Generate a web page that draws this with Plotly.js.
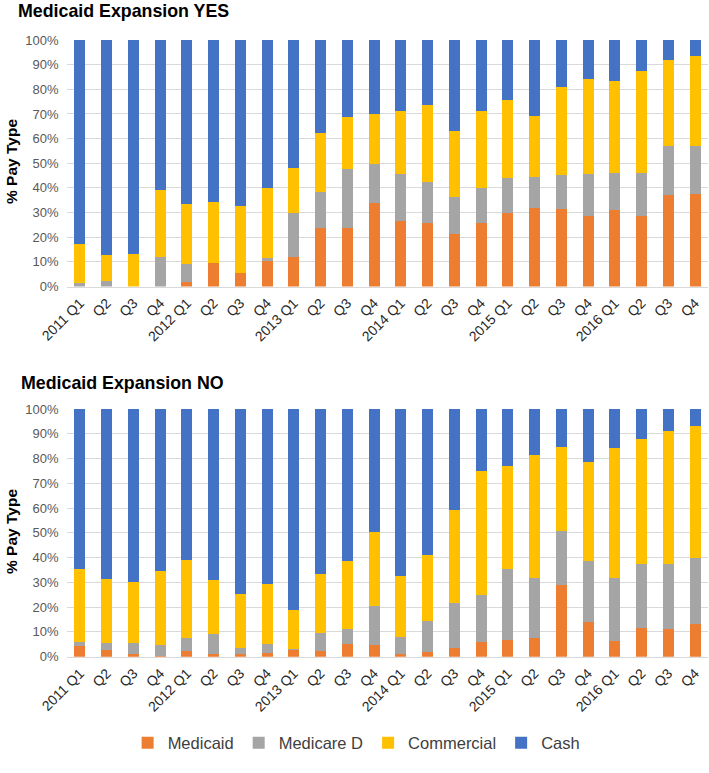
<!DOCTYPE html>
<html>
<head>
<meta charset="utf-8">
<script src="https://cdn.plot.ly/plotly-3.0.1.min.js"></script>
<style>html,body{margin:0;padding:0;background:#fff;}#chart{width:709px;height:773px;}</style>
</head>
<body>
<div id="chart"></div>
<script>
const periods = ["2011 Q1","2011 Q2","2011 Q3","2011 Q4","2012 Q1","2012 Q2","2012 Q3","2012 Q4",
  "2013 Q1","2013 Q2","2013 Q3","2013 Q4","2014 Q1","2014 Q2","2014 Q3","2014 Q4",
  "2015 Q1","2015 Q2","2015 Q3","2015 Q4","2016 Q1","2016 Q2","2016 Q3","2016 Q4"];
const tickLabels = ["2011 Q1","Q2","Q3","Q4","2012 Q1","Q2","Q3","Q4","2013 Q1","Q2","Q3","Q4",
  "2014 Q1","Q2","Q3","Q4","2015 Q1","Q2","Q3","Q4","2016 Q1","Q2","Q3","Q4"];
const seriesNames = ["Medicaid","Medicare D","Commercial","Cash"];

// Medicaid Expansion YES (% of pay type)
const yesMedicaid   = [0,0,0,0,1.9,9.6,5.6,10.2,11.9,23.8,23.8,33.9,26.6,25.7,21.4,25.7,29.8,32.0,31.6,28.6,31.0,28.6,37.1,37.5];
const yesMedicare   = [1.4,2.4,0,11.9,7.3,0,0,1.3,17.8,14.5,23.8,15.6,19.1,16.7,14.8,14.1,14.1,12.4,13.7,17.1,15.1,17.5,19.7,19.3];
const yesCommercial = [15.9,10.5,13.3,27.4,24.1,24.7,26.9,28.3,18.4,24.0,21.0,20.4,25.3,31.3,26.9,31.2,31.6,24.7,35.6,38.6,37.2,41.3,35.2,36.6];
const yesCash       = [82.7,87.1,86.7,60.7,66.7,65.7,67.5,60.2,51.9,37.7,31.4,30.1,29.0,26.3,36.9,29.0,24.5,30.9,19.1,15.7,16.7,12.6,8.0,6.6];

// Medicaid Expansion NO (% of pay type)
const noMedicaid   = [4.2,2.8,1.1,0.4,2.4,1.2,0.9,1.5,2.9,2.4,5.1,4.7,1.1,2.0,3.6,6.1,6.9,7.4,28.8,14.1,6.5,11.4,11.0,13.3];
const noMedicare   = [1.7,2.7,4.6,4.2,5.3,8.0,2.7,3.5,0.3,7.2,6.2,15.8,7.0,12.5,18.2,18.9,28.6,24.5,22.1,24.7,25.4,25.9,26.3,26.7];
const noCommercial = [29.6,26.0,24.4,30.0,31.5,21.8,21.6,24.2,15.6,23.6,27.3,30.0,24.6,26.4,37.4,50.0,41.5,49.5,33.8,39.8,52.4,50.5,53.7,53.3];
const noCash       = [64.5,68.5,69.9,65.4,60.8,69.0,74.8,70.8,81.3,66.8,61.4,49.5,67.3,59.1,40.8,25.0,23.0,18.6,15.3,21.4,15.7,12.2,9.0,6.7];

const colors = ["#ED7D31","#A5A5A5","#FFC000","#4472C4"];
const yesSeries = [yesMedicaid, yesMedicare, yesCommercial, yesCash];
const noSeries = [noMedicaid, noMedicare, noCommercial, noCash];

const traces = [];
yesSeries.forEach((vals, i) => {
  traces.push({type:"bar", name:seriesNames[i], x:periods, y:vals, xaxis:"x", yaxis:"y",
    marker:{color:colors[i]}, legendgroup:seriesNames[i], showlegend:true, hoverinfo:"y+name"});
});
noSeries.forEach((vals, i) => {
  traces.push({type:"bar", name:seriesNames[i], x:periods, y:vals, xaxis:"x2", yaxis:"y2",
    marker:{color:colors[i]}, legendgroup:seriesNames[i], showlegend:false, hoverinfo:"y+name"});
});

const FONT = "Liberation Sans, Arial, sans-serif";
const W = 709, H = 773;
const xDom = [66.6/W, 708.4/W];

function yAxis(top, bottom, anchor){
  return {domain:[1-bottom/H, 1-top/H], range:[0,100], anchor:anchor,
    tickvals:[0,10,20,30,40,50,60,70,80,90,100],
    ticktext:["0%","10%","20%","30%","40%","50%","60%","70%","80%","90%","100%"],
    showgrid:true, gridcolor:"#D9D9D9", gridwidth:1, zeroline:false, showline:false,
    ticks:"", ticklabelstandoff:7,
    tickfont:{family:FONT, size:13, color:"#595959"}, fixedrange:true};
}
function xAxis(anchor){
  return {domain:xDom, anchor:anchor, type:"category",
    tickvals:periods, ticktext:tickLabels, tickangle:-45,
    showline:true, linecolor:"#D9D9D9", linewidth:1, ticks:"", showgrid:false,
    ticklabelstandoff:2,
    tickfont:{family:FONT, size:14, color:"#262626"}, fixedrange:true};
}

const layout = {
  width:W, height:H,
  margin:{l:0, r:0, t:0, b:0},
  paper_bgcolor:"#fff", plot_bgcolor:"#fff",
  barmode:"stack", bargap:0.59,
  font:{family:FONT, color:"#404040"},
  xaxis:xAxis("y"), yaxis:yAxis(40, 286.5, "x"),
  xaxis2:xAxis("y2"), yaxis2:yAxis(409, 656.7, "x2"),
  showlegend:true,
  legend:{orientation:"h", x:0.503, xanchor:"center", y:1-743/H, yanchor:"middle",
    font:{family:FONT, size:16.5, color:"#404040"}, traceorder:"normal", itemwidth:30},
  annotations:[
    {text:"<b>Medicaid Expansion YES</b>", xref:"paper", yref:"paper", x:16/W, y:1-11/H,
      xanchor:"left", yanchor:"middle", showarrow:false, font:{family:FONT, size:17.8, color:"#000"}},
    {text:"<b>Medicaid Expansion NO</b>", xref:"paper", yref:"paper", x:19/W, y:1-383/H,
      xanchor:"left", yanchor:"middle", showarrow:false, font:{family:FONT, size:17.8, color:"#000"}},
    {text:"<b>% Pay Type</b>", xref:"paper", yref:"paper", x:11/W, y:1-162/H, textangle:-90,
      xanchor:"center", yanchor:"middle", showarrow:false, font:{family:FONT, size:15.5, color:"#000"}},
    {text:"<b>% Pay Type</b>", xref:"paper", yref:"paper", x:11/W, y:1-532/H, textangle:-90,
      xanchor:"center", yanchor:"middle", showarrow:false, font:{family:FONT, size:15.5, color:"#000"}}
  ]
};

Plotly.newPlot("chart", traces, layout, {displayModeBar:false, staticPlot:true});
</script>
</body>
</html>
